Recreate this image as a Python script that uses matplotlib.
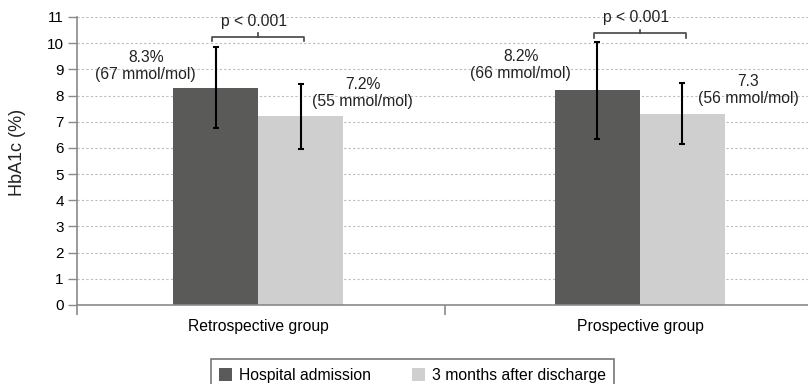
import numpy as np
import matplotlib
matplotlib.use("Agg")
import matplotlib.pyplot as plt

plt.rcParams['font.family'] = ['Liberation Sans', 'DejaVu Sans']

groups = ["Retrospective group", "Prospective group"]
series = ["Hospital admission", "3 months after discharge"]

admission = [8.3, 8.2]
admission_lo = [6.77, 6.33]
admission_hi = [9.84, 10.05]

discharge = [7.2, 7.3]
discharge_lo = [5.97, 6.14]
discharge_hi = [8.43, 8.48]

adm_labels = ["8.3%\n(67 mmol/mol)", "8.2%\n(66 mmol/mol)"]
dis_labels = ["7.2%\n(55 mmol/mol)", "7.3\n(56 mmol/mol)"]
p_labels = ["p < 0.001", "p < 0.001"]

dark = "#5a5a59"
light = "#cfcfcf"
axis_grey = "#8a8a8a"

fig = plt.figure(figsize=(8.08, 3.84), dpi=100)
ax = fig.add_axes([77/808, 1-305/384, 1-77/808, (305-17)/384])

x = np.arange(len(groups))
w = 0.2225

ax.grid(axis='y', color='#bdbdbd', linestyle=(0, (2, 2)), linewidth=0.8)
ax.set_axisbelow(True)

adm = np.array(admission)
dis = np.array(discharge)
ax.bar(x - w/2, adm, w, color=dark, label=series[0], zorder=2)
ax.bar(x + w/2, dis, w, color=light, label=series[1], zorder=2)

ax.errorbar(x - w/2, adm, yerr=[adm - np.array(admission_lo), np.array(admission_hi) - adm],
            fmt='none', ecolor='black', elinewidth=1.5, capsize=2.5, capthick=1.5, zorder=3)
ax.errorbar(x + w/2, dis, yerr=[dis - np.array(discharge_lo), np.array(discharge_hi) - dis],
            fmt='none', ecolor='black', elinewidth=1.5, capsize=2.5, capthick=1.5, zorder=3)

# value labels
offs_adm = [-0.294, -0.312]
offs_dis = [0.274, 0.284]
ys_adm = [9.12, 9.16]
ys_dis = [8.1, 8.22]
for i in range(len(groups)):
    ax.text(x[i] + offs_adm[i], ys_adm[i], adm_labels[i], ha='center', va='center',
            fontsize=11.3, color='#222222', linespacing=1.15)
    ax.text(x[i] + offs_dis[i], ys_dis[i], dis_labels[i], ha='center', va='center',
            fontsize=11.3, color='#222222', linespacing=1.15)

# significance brackets
br_y = [10.24, 10.37]
for i in range(len(groups)):
    y0 = br_y[i]
    ax.plot([x[i] - 0.12, x[i] - 0.12, x[i] + 0.12, x[i] + 0.12],
            [y0 - 0.17, y0, y0, y0 - 0.17], color='#444444', lw=1.2, clip_on=False, zorder=4)
    ax.plot([x[i], x[i]], [y0, y0 + 0.15], color='#444444', lw=1.2, clip_on=False, zorder=4)
    ax.text(x[i] - 0.01, y0 + 0.6, p_labels[i], ha='center', va='center',
            fontsize=11.3, color='#222222')

ax.set_xlim(-0.474, 1.44)
ax.set_ylim(0, 11)
ax.set_yticks(range(0, 12))
ax.set_xticks(x)
ax.set_xticklabels(groups, fontsize=11.3)
ax.set_xticks([-0.474, 0.49], minor=True)
ax.tick_params(axis='x', which='major', length=0, pad=10)
ax.tick_params(axis='x', which='minor', length=7, width=1.2, color=axis_grey)
ax.tick_params(axis='y', length=6.5, width=1.0, color=axis_grey, pad=3, labelsize=11)

# y label sits a little above the axis centre in the original
fig.text(17.5/808, 1-152.5/384, "HbA1c (%)", rotation=90, ha='center', va='center',
         fontsize=13, color='#222222')

for s in ['top', 'right']:
    ax.spines[s].set_visible(False)
for s in ['left', 'bottom']:
    ax.spines[s].set_color(axis_grey)
    ax.spines[s].set_linewidth(1.2)

leg = fig.legend(loc='upper center', bbox_to_anchor=(412.5/808, 1-359/384), ncol=2,
                 fontsize=11.3, frameon=True, fancybox=False, handlelength=0.82,
                 handleheight=0.9, handletextpad=0.45, columnspacing=2.6, borderpad=0.55,
                 borderaxespad=0)
leg.get_frame().set_edgecolor('#555555')
leg.get_frame().set_linewidth(1.2)

fig.savefig("out.png", dpi=100)
